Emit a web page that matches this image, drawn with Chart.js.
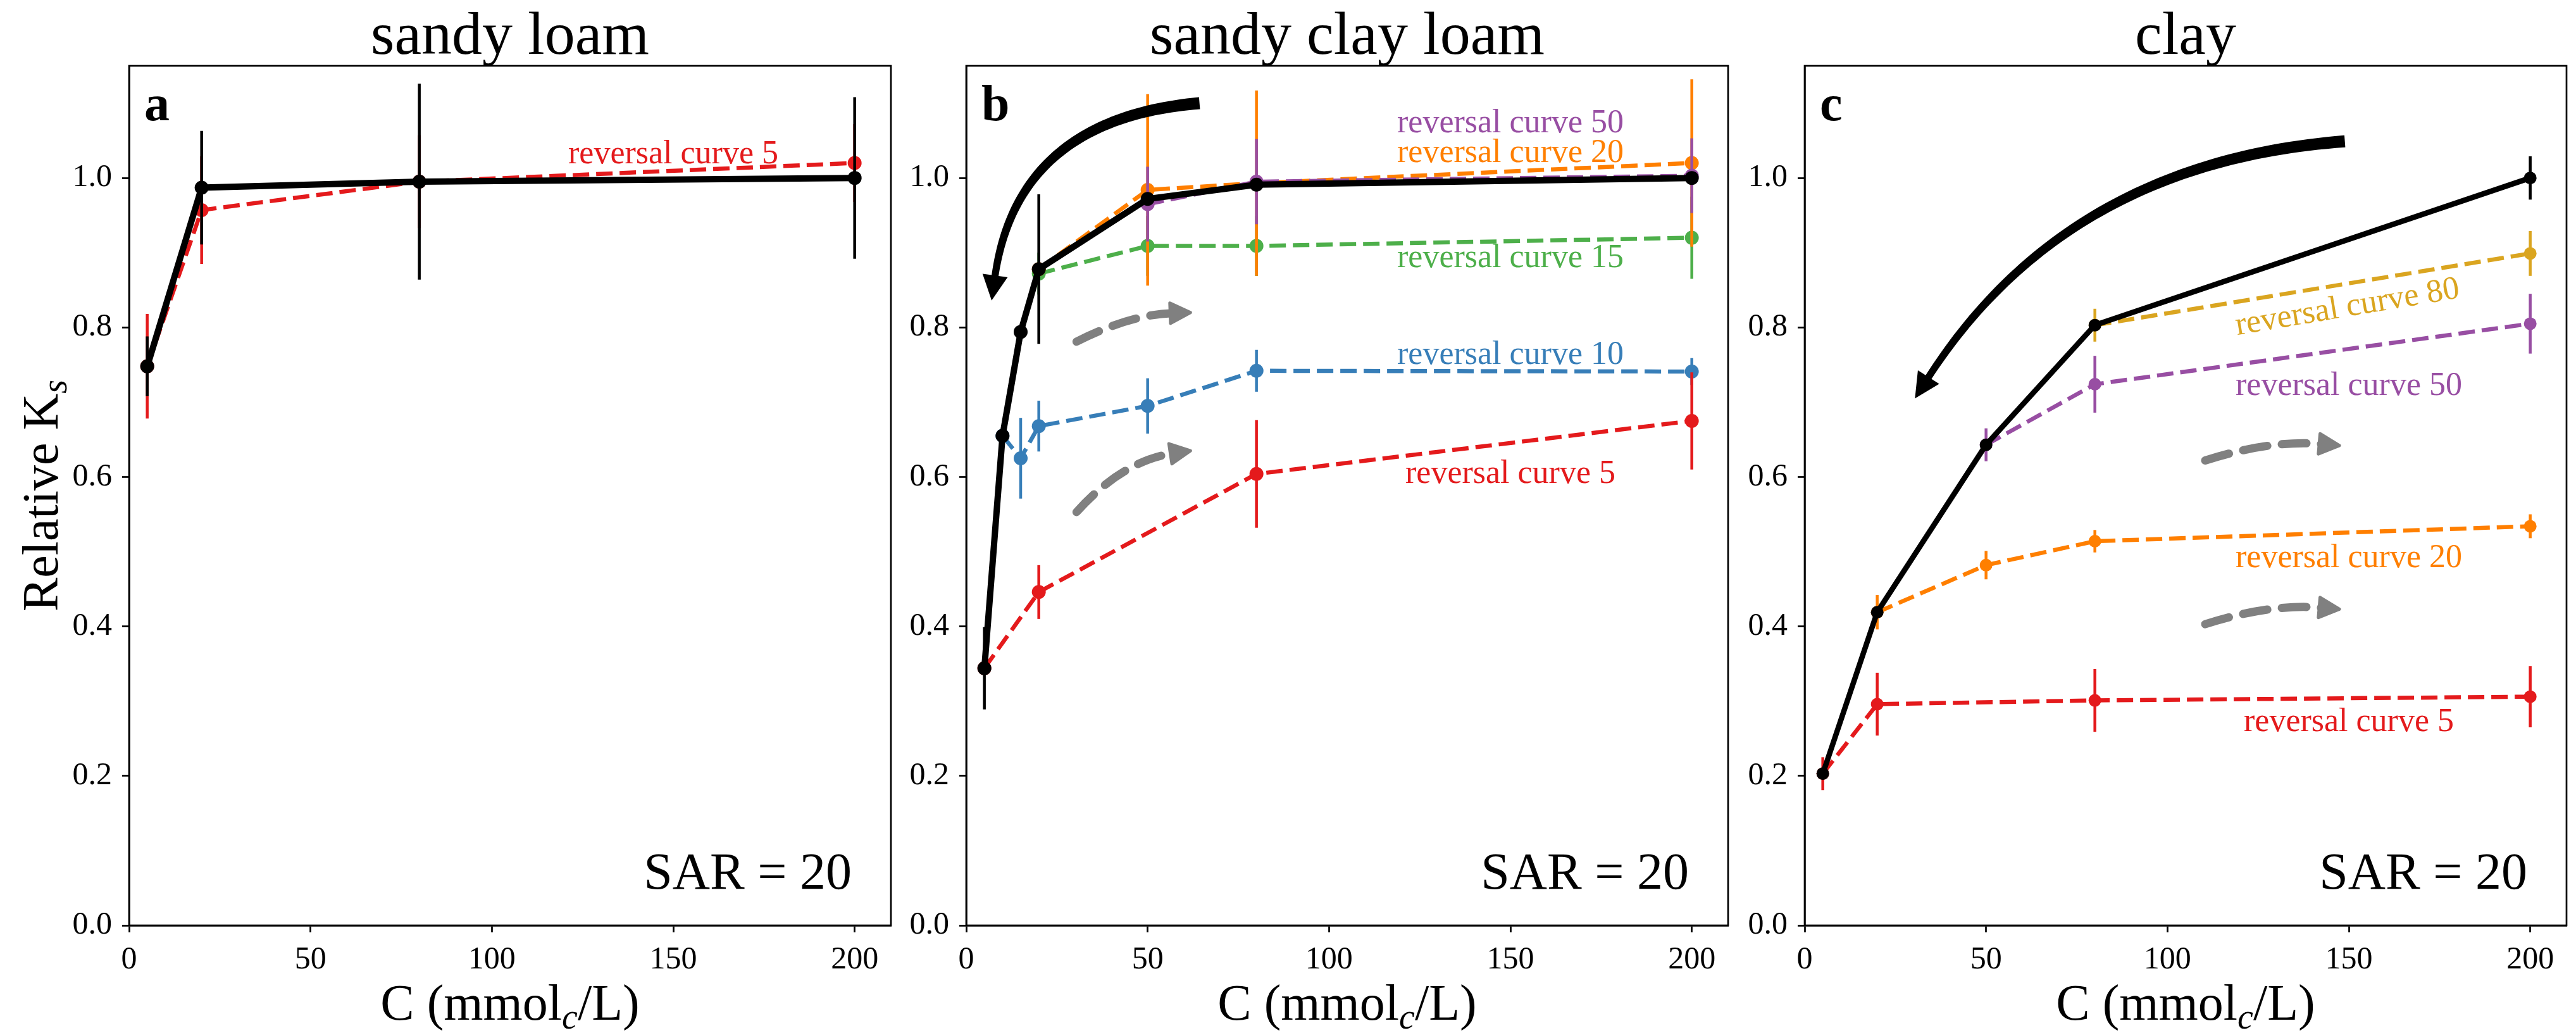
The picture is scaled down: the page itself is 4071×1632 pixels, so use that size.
<!DOCTYPE html>
<html>
<head>
<meta charset="utf-8">
<title>Relative Ks vs C</title>
<script src="https://cdn.jsdelivr.net/npm/chart.js@4.4.1/dist/chart.umd.min.js"></script>
<style>
  html, body { margin: 0; padding: 0; background: #fff; }
  #figure { position: relative; width: 4071px; height: 1632px; overflow: hidden; background: #fff; }
  #figure canvas { position: absolute; top: 0; }
</style>
</head>
<body>
<div id="figure">
  <canvas id="panelA" width="1420" height="1632" style="left:0px"></canvas>
  <canvas id="panelB" width="1325" height="1632" style="left:1420px"></canvas>
  <canvas id="panelC" width="1326" height="1632" style="left:2745px"></canvas>
</div>
<script>
// ---- values ----
const xTickValues = [0, 50, 100, 150, 200];
const yTickValues = [0, 0.2, 0.4, 0.6, 0.8, 1.0];

// a: sandy loam
const aMainX = [5, 20, 80, 200];
const aMainY = [0.748, 0.987, 0.995, 1.000];
const aMainErr = [0.04, 0.076, 0.131, 0.108];
const aRev5X = [5, 20, 80, 200];
const aRev5Y = [0.748, 0.957, 0.995, 1.020];
const aRev5Err = [0.070, 0.072, 0.062, 0.052];

// b: sandy clay loam
const bMainX = [5, 10, 15, 20, 50, 80, 200];
const bMainY = [0.344, 0.655, 0.794, 0.878, 0.972, 0.991, 1.000];
const bMainErr = [0.055, 0, 0, 0.100, 0, 0, 0];
const bRev5X = [5, 20, 80, 200];
const bRev5Y = [0.344, 0.446, 0.604, 0.675];
const bRev5Err = [0, 0.036, 0.072, 0.065];
const bRev10X = [10, 15, 20, 50, 80, 200];
const bRev10Y = [0.655, 0.625, 0.668, 0.695, 0.742, 0.741];
const bRev10Err = [0, 0.054, 0.034, 0.037, 0.028, 0.018];
const bRev15X = [20, 50, 80, 200];
const bRev15Y = [0.872, 0.909, 0.909, 0.920];
const bRev15Err = [0.028, 0.04, 0.04, 0.055];
const bRev20X = [20, 50, 80, 200];
const bRev20Y = [0.878, 0.984, 0.993, 1.020];
const bRev20Err = [0, 0.128, 0.124, 0.112];
const bRev50X = [50, 80, 200];
const bRev50Y = [0.965, 0.995, 1.003];
const bRev50Err = [0.05, 0.057, 0.05];

// c: clay
const cMainX = [5, 20, 50, 80, 200];
const cMainY = [0.203, 0.419, 0.643, 0.803, 1.000];
const cMainErr = [0, 0, 0, 0, 0.029];
const cRev5X = [5, 20, 80, 200];
const cRev5Y = [0.203, 0.296, 0.301, 0.306];
const cRev5Err = [0.022, 0.042, 0.042, 0.041];
const cRev20X = [20, 50, 80, 200];
const cRev20Y = [0.419, 0.482, 0.514, 0.534];
const cRev20Err = [0.023, 0.019, 0.015, 0.016];
const cRev50X = [50, 80, 200];
const cRev50Y = [0.643, 0.724, 0.805];
const cRev50Err = [0.022, 0.038, 0.04];
const cRev80X = [80, 200];
const cRev80Y = [0.803, 0.899];
const cRev80Err = [0.022, 0.03];

const colors = {
    main: '#000000',
    rev5: '#e41a1c',
    rev10: '#377eb8',
    rev15: '#4daf4a',
    rev20: '#ff7f00',
    rev50: '#984ea3',
    rev80: '#daa520',
    arrow: '#808080'
};

// text annotations: [text, x, y(baseline), colour, rotation deg]
const notesA = [['reversal curve 5', 150, 1.020, colors.rev5, 0]];
const notesB = [
    ['reversal curve 50', 150, 1.061, colors.rev50, 0],
    ['reversal curve 20', 150, 1.021, colors.rev20, 0],
    ['reversal curve 15', 150, 0.881, colors.rev15, 0],
    ['reversal curve 10', 150, 0.751, colors.rev10, 0],
    ['reversal curve 5', 150, 0.592, colors.rev5, 0]
];
const notesC = [
    ['reversal curve 80', 150, 0.815, colors.rev80, 9.5],
    ['reversal curve 50', 150, 0.710, colors.rev50, 0],
    ['reversal curve 20', 150, 0.479, colors.rev20, 0],
    ['reversal curve 5', 150, 0.260, colors.rev5, 0]
];

// arrows: [x0, y0, x1, y1, curvature, kind]
const arrowsB = [
    [64.3, 1.100, 7.0, 0.836, -0.40, 'black'],
    [30.4, 0.781, 61.8, 0.820, 0.11, 'gray'],
    [30.4, 0.553, 61.8, 0.635, 0.18, 'gray']
];
const arrowsC = [
    [148.9, 1.049, 30.4, 0.705, -0.25, 'black'],
    [110.4, 0.622, 147.4, 0.642, 0.10, 'gray'],
    [110.4, 0.403, 147.4, 0.423, 0.10, 'gray']
];

// ---- drawing ----
const FONT = '"Liberation Serif", "DejaVu Serif", serif';
const PLOT_TOP = 104;
const PLOT_BOTTOM = 1462;
const CANVAS_H = 1632;

function series(xs, ys, errs, color, dashed, style) {
    return {
        data: xs.map((x, i) => ({ x: x, y: ys[i] })),
        errors: errs,
        borderColor: color,
        backgroundColor: color,
        pointBackgroundColor: color,
        pointBorderWidth: 0,
        pointRadius: style.r,
        pointHoverRadius: style.r,
        borderWidth: dashed ? 6.5 : style.w,
        borderDash: dashed ? [26, 11] : [],
        showLine: true,
        fill: false,
        tension: 0
    };
}

function drawRich(ctx, parts, x, y, align) {
    let total = 0;
    parts.forEach(p => { ctx.font = p[1]; total += ctx.measureText(p[0]).width; });
    let cx = align === 'center' ? x - total / 2 : (align === 'right' ? x - total : x);
    ctx.textAlign = 'left';
    parts.forEach(p => {
        ctx.font = p[1];
        ctx.fillText(p[0], cx, y + (p[2] || 0));
        cx += ctx.measureText(p[0]).width;
    });
}

function quad(p0, c, p2, t) {
    const u = 1 - t;
    return { x: u * u * p0.x + 2 * u * t * c.x + t * t * p2.x,
             y: u * u * p0.y + 2 * u * t * c.y + t * t * p2.y };
}

function drawArrow(ctx, sx, sy, a) {
    const p0 = { x: sx.getPixelForValue(a[0]), y: sy.getPixelForValue(a[1]) };
    const p2 = { x: sx.getPixelForValue(a[2]), y: sy.getPixelForValue(a[3]) };
    const dx = p2.x - p0.x, dy = p2.y - p0.y;
    const c = { x: (p0.x + p2.x) / 2 + a[4] * dy, y: (p0.y + p2.y) / 2 - a[4] * dx };
    const black = a[5] === 'black';
    const headLen = black ? 40 : 32;
    const headHalf = black ? 20 : 16;
    let tx = p2.x - c.x, ty = p2.y - c.y;
    const tl = Math.hypot(tx, ty);
    tx /= tl; ty /= tl;
    const base = { x: p2.x - tx * headLen, y: p2.y - ty * headLen };
    const shaftEnd = { x: base.x + tx * 4, y: base.y + ty * 4 };
    ctx.save();
    ctx.fillStyle = black ? '#000' : colors.arrow;
    ctx.strokeStyle = black ? '#000' : colors.arrow;
    if (black) {
        // tapered shaft
        const n = 60, left = [], right = [];
        for (let i = 0; i <= n; i++) {
            const t = i / n;
            const p = quad(p0, c, shaftEnd, t);
            const gx = 2 * (1 - t) * (c.x - p0.x) + 2 * t * (shaftEnd.x - c.x);
            const gy = 2 * (1 - t) * (c.y - p0.y) + 2 * t * (shaftEnd.y - c.y);
            const gl = Math.hypot(gx, gy);
            const w = (19 - 8 * t) / 2;
            left.push([p.x - gy / gl * w, p.y + gx / gl * w]);
            right.push([p.x + gy / gl * w, p.y - gx / gl * w]);
        }
        ctx.beginPath();
        ctx.moveTo(left[0][0], left[0][1]);
        left.forEach(q => ctx.lineTo(q[0], q[1]));
        right.reverse().forEach(q => ctx.lineTo(q[0], q[1]));
        ctx.closePath();
        ctx.fill();
    } else {
        ctx.lineWidth = 13;
        ctx.lineCap = 'round';
        ctx.setLineDash([39, 23]);
        ctx.beginPath();
        ctx.moveTo(p0.x, p0.y);
        ctx.quadraticCurveTo(c.x, c.y, shaftEnd.x, shaftEnd.y);
        ctx.stroke();
        ctx.setLineDash([]);
    }
    ctx.beginPath();
    ctx.moveTo(p2.x, p2.y);
    ctx.lineTo(base.x - ty * headHalf, base.y + tx * headHalf);
    ctx.lineTo(base.x + ty * headHalf, base.y - tx * headHalf);
    ctx.closePath();
    ctx.fill();
    if (!black) {
        ctx.lineJoin = 'round';
        ctx.lineWidth = 5;
        ctx.stroke();
    }
    ctx.restore();
}

function decorPlugin(panel) {
    return {
        id: 'decor' + panel.letter,
        beforeDatasetDraw(chart, args) {
            const ds = chart.data.datasets[args.index];
            if (!ds.errors) return;
            const sx = chart.scales.x, sy = chart.scales.y, ctx = chart.ctx;
            ctx.save();
            ctx.strokeStyle = ds.borderColor;
            ctx.lineWidth = 4.5;
            ctx.setLineDash([]);
            ds.data.forEach((p, i) => {
                const e = ds.errors[i];
                if (!e) return;
                const px = sx.getPixelForValue(p.x);
                ctx.beginPath();
                ctx.moveTo(px, sy.getPixelForValue(p.y - e));
                ctx.lineTo(px, sy.getPixelForValue(p.y + e));
                ctx.stroke();
            });
            ctx.restore();
        },
        afterDraw(chart) {
            const ctx = chart.ctx, area = chart.chartArea;
            const sx = chart.scales.x, sy = chart.scales.y;
            const midX = (area.left + area.right) / 2;
            ctx.save();
            // frame
            ctx.strokeStyle = '#000';
            ctx.lineWidth = 2.7;
            ctx.strokeRect(area.left, area.top, area.right - area.left, area.bottom - area.top);
            ctx.fillStyle = '#000';
            ctx.textBaseline = 'alphabetic';
            // title
            ctx.textAlign = 'center';
            ctx.font = '96px ' + FONT;
            ctx.fillText(panel.title, midX, 85);
            // panel letter
            ctx.textAlign = 'left';
            ctx.font = 'bold 80px ' + FONT;
            ctx.fillText(panel.letter, area.left + 24, 190);
            // SAR text
            ctx.textAlign = 'right';
            ctx.font = '82px ' + FONT;
            ctx.fillText('SAR = 20', area.right - 62, 1404);
            // x label
            drawRich(ctx, [
                ['C (mmol', '80px ' + FONT, 0],
                ['c', 'italic 56px ' + FONT, 14],
                ['/L)', '80px ' + FONT, 0]
            ], midX, 1611, 'center');
            // y label
            if (panel.ylabel) {
                ctx.save();
                ctx.translate(91, (area.top + area.bottom) / 2);
                ctx.rotate(-Math.PI / 2);
                drawRich(ctx, [
                    ['Relative K', '80px ' + FONT, 0],
                    ['s', 'italic 56px ' + FONT, 14]
                ], 0, 0, 'center');
                ctx.restore();
            }
            // annotations
            ctx.font = '52px ' + FONT;
            panel.notes.forEach(n => {
                const px = sx.getPixelForValue(n[1]);
                const py = sy.getPixelForValue(n[2]);
                ctx.save();
                ctx.fillStyle = n[3];
                ctx.textAlign = 'center';
                ctx.translate(px, py);
                ctx.rotate(-n[4] * Math.PI / 180);
                ctx.fillText(n[0], 0, 0);
                ctx.restore();
            });
            panel.arrows.forEach(a => drawArrow(ctx, sx, sy, a));
            ctx.restore();
        }
    };
}

function makePanel(canvasId, panel) {
    const canvas = document.getElementById(canvasId);
    const tickFont = { family: FONT, size: 50 };
    const axisGrid = { display: true, drawOnChartArea: false, drawTicks: true, tickLength: 11,
                       tickWidth: 2.7, tickColor: '#000' };
    return new Chart(canvas, {
        type: 'line',
        data: { datasets: panel.datasets },
        options: {
            responsive: false,
            animation: false,
            events: [],
            layout: { padding: { left: 0, right: panel.rightPad, top: PLOT_TOP, bottom: 0 } },
            plugins: { legend: { display: false }, tooltip: { enabled: false }, title: { display: false } },
            scales: {
                x: {
                    type: 'linear', min: 0, max: 210,
                    afterBuildTicks: s => { s.ticks = xTickValues.map(v => ({ value: v })); },
                    afterFit: s => { s.height = CANVAS_H - PLOT_BOTTOM; },
                    ticks: { font: tickFont, color: '#000', padding: 14, maxRotation: 0, autoSkip: false,
                             callback: v => String(v) },
                    grid: axisGrid,
                    border: { display: true, color: '#000', width: 2.7 }
                },
                y: {
                    type: 'linear', min: 0, max: 1.15,
                    afterBuildTicks: s => { s.ticks = yTickValues.map(v => ({ value: v })); },
                    afterFit: s => { s.width = panel.yWidth; },
                    ticks: { font: tickFont, color: '#000', padding: 16, autoSkip: false,
                             callback: v => Number(v).toFixed(1) },
                    grid: axisGrid,
                    border: { display: true, color: '#000', width: 2.7 }
                }
            }
        },
        plugins: [decorPlugin(panel)]
    });
}

Chart.defaults.font.family = FONT;

const styleAB = { w: 10, r: 11 };
const styleC = { w: 8.5, r: 10 };

makePanel('panelA', {
    letter: 'a', title: 'sandy loam', ylabel: true, yWidth: 204, rightPad: 12,
    notes: notesA, arrows: [],
    datasets: [
        series(aMainX, aMainY, aMainErr, colors.main, false, styleAB),
        series(aRev5X, aRev5Y, aRev5Err, colors.rev5, true, styleAB)
    ]
});

makePanel('panelB', {
    letter: 'b', title: 'sandy clay loam', ylabel: false, yWidth: 107, rightPad: 14,
    notes: notesB, arrows: arrowsB,
    datasets: [
        series(bMainX, bMainY, bMainErr, colors.main, false, styleAB),
        series(bRev50X, bRev50Y, bRev50Err, colors.rev50, true, styleAB),
        series(bRev20X, bRev20Y, bRev20Err, colors.rev20, true, styleAB),
        series(bRev15X, bRev15Y, bRev15Err, colors.rev15, true, styleAB),
        series(bRev5X, bRev5Y, bRev5Err, colors.rev5, true, styleAB),
        series(bRev10X, bRev10Y, bRev10Err, colors.rev10, true, styleAB)
    ]
});

makePanel('panelC', {
    letter: 'c', title: 'clay', ylabel: false, yWidth: 107, rightPad: 15,
    notes: notesC, arrows: arrowsC,
    datasets: [
        series(cMainX, cMainY, cMainErr, colors.main, false, styleC),
        series(cRev80X, cRev80Y, cRev80Err, colors.rev80, true, styleC),
        series(cRev50X, cRev50Y, cRev50Err, colors.rev50, true, styleC),
        series(cRev20X, cRev20Y, cRev20Err, colors.rev20, true, styleC),
        series(cRev5X, cRev5Y, cRev5Err, colors.rev5, true, styleC)
    ]
});
</script>
</body>
</html>
